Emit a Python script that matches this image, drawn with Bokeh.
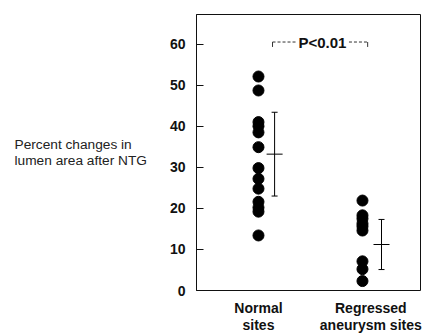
from bokeh.plotting import figure
from bokeh.models import Range1d, FixedTicker
from bokeh.core.properties import value
from bokeh.embed import file_html
from bokeh.resources import INLINE

# ---- data ----
groups = ["Normal\nsites", "Regressed\naneurysm sites"]
group_x = [1, 2]
normal_vals = [52.1, 48.7, 41.0, 40.0, 38.5, 34.9, 29.8, 27.2, 24.8, 21.6, 20.2, 19.2, 13.4]
regressed_vals = [21.9, 18.3, 17.5, 16.3, 15.6, 14.6, 7.1, 5.2, 2.3]
means = [33.2, 11.2]
sds = [10.2, 6.1]
y_ticks = [0, 10, 20, 30, 40, 50, 60]
p_text = "P<0.01"
p_level = 60.5
y_title = ["Percent changes in", "lumen area after NTG"]

FONT = "Liberation Sans"

p = figure(width=422, height=336, output_backend="svg", toolbar_location=None,
           x_range=Range1d(0.404, 2.558), y_range=Range1d(0, 67.2),
           min_border_left=196, min_border_right=2, min_border_top=14, min_border_bottom=44)
p.background_fill_color = "white"
p.border_fill_color = "white"
p.outline_line_color = "#111111"
p.outline_line_width = 1
p.xgrid.visible = False
p.ygrid.visible = False

# x axis: category labels (centred under each block of text)
label_x = [1.0, 2.08]
xa = p.xaxis[0]
xa.ticker = FixedTicker(ticks=label_x)
xa.major_label_overrides = {lx: g for lx, g in zip(label_x, groups)}
xa.major_label_text_font = FONT
xa.major_label_text_font_size = "14px"
xa.major_label_text_font_style = "bold"
xa.major_label_text_color = "#111111"
xa.major_label_text_line_height = 1.1
xa.major_label_standoff = 3
xa.major_tick_line_color = None
xa.minor_tick_line_color = None
xa.axis_line_color = None

ya = p.yaxis[0]
ya.ticker = FixedTicker(ticks=y_ticks)
ya.minor_tick_line_color = None
ya.major_tick_in = 7
ya.major_tick_out = 0
ya.major_tick_line_color = "#111111"
ya.axis_line_color = "#111111"
ya.major_label_standoff = 11
ya.major_label_text_font = FONT
ya.major_label_text_font_size = "14px"
ya.major_label_text_font_style = "bold"
ya.major_label_text_color = "#111111"
# pad the first line with non-breaking spaces so both lines start at the same x
ya.axis_label = y_title[0] + "\u00a0" * 4 + "\n" + y_title[1]
ya.axis_label_orientation = "horizontal"
ya.axis_label_text_font = FONT
ya.axis_label_text_font_size = "13.7px"
ya.axis_label_text_font_style = "normal"
ya.axis_label_text_color = "#222222"
ya.axis_label_text_line_height = 1.1
ya.axis_label_standoff = 20

# dots
p.scatter([group_x[0]] * len(normal_vals), normal_vals, size=11, color="black")
p.scatter([group_x[1]] * len(regressed_vals), regressed_vals, size=11, color="black")

# mean +/- SD bars
offsets = [0.155, 0.183]
bx = [gx + o for gx, o in zip(group_x, offsets)]
lo = [m - s for m, s in zip(means, sds)]
hi = [m + s for m, s in zip(means, sds)]
p.segment(bx, lo, bx, hi, line_color="black", line_width=1)
p.scatter(bx, means, marker="dash", size=16, line_color="black", line_width=1)
p.scatter(bx + bx, lo + hi, marker="dash", size=6, line_color="black", line_width=1)

# significance bracket
bl, br = 1.135, 2.05
p.segment([bl, 1.87], [p_level, p_level], [1.36, br], [p_level, p_level],
          line_color="#333333", line_width=1, line_dash="3 2")
p.segment([bl, br], [p_level, p_level], [bl, br], [p_level - 1.2, p_level - 1.2],
          line_color="#333333", line_width=1)
p.text(x=[1.615], y=[p_level], text=[p_text], text_align="center", text_baseline="middle",
       text_font=value(FONT), text_font_size="15px", text_font_style="bold", text_color="#111111")

open("out.html", "w").write(file_html(p, INLINE))
